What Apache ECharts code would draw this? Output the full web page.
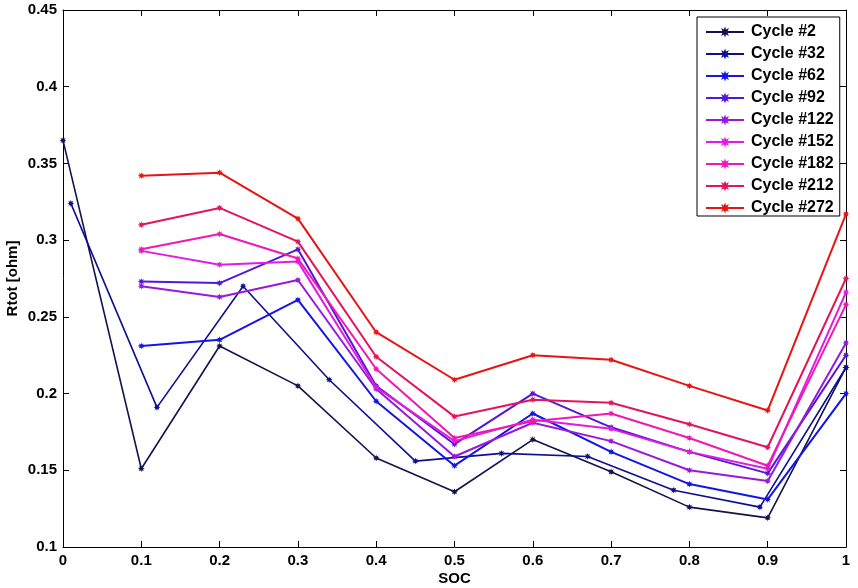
<!DOCTYPE html>
<html>
<head>
<meta charset="utf-8">
<script src="https://cdn.jsdelivr.net/npm/echarts@6/dist/echarts.min.js"></script>
<style>
html,body{margin:0;padding:0;background:#fff;}
#chart{width:858px;height:588px;}
</style>
</head>
<body>
<div id="chart"></div>
<script>
// ---- data ----
var soc = [0, 0.1, 0.2, 0.3, 0.4, 0.5, 0.6, 0.7, 0.8, 0.9, 1.0];
var soc32 = [0.01, 0.12, 0.23, 0.34, 0.45, 0.56, 0.67, 0.78, 0.89, 1.0];
var names = ['Cycle #2', 'Cycle #32', 'Cycle #62', 'Cycle #92', 'Cycle #122', 'Cycle #152', 'Cycle #182', 'Cycle #212', 'Cycle #272'];
var cycle2   = [0.365, 0.151, 0.231, 0.205, 0.158, 0.136, 0.170, 0.149, 0.126, 0.119, 0.217];
var cycle32  = [0.324, 0.191, 0.270, 0.209, 0.156, 0.161, 0.159, 0.137, 0.126, 0.217];
var cycle62  = [null, 0.231, 0.235, 0.261, 0.195, 0.153, 0.187, 0.162, 0.141, 0.131, 0.200];
var cycle92  = [null, 0.273, 0.272, 0.294, 0.205, 0.167, 0.200, 0.178, 0.162, 0.148, 0.225];
var cycle122 = [null, 0.270, 0.263, 0.274, 0.203, 0.159, 0.181, 0.169, 0.150, 0.143, 0.233];
var cycle152 = [null, 0.293, 0.284, 0.286, 0.204, 0.169, 0.183, 0.177, 0.162, 0.151, 0.266];
var cycle182 = [null, 0.294, 0.304, 0.288, 0.216, 0.171, 0.182, 0.187, 0.171, 0.153, 0.258];
var cycle212 = [null, 0.310, 0.321, 0.299, 0.224, 0.185, 0.196, 0.194, 0.180, 0.165, 0.275];
var cycle272 = [null, 0.342, 0.344, 0.314, 0.240, 0.209, 0.225, 0.222, 0.205, 0.189, 0.317];

var colors = ['#12124e', '#0e0e90', '#1414e6', '#5416dc', '#9818dc', '#e01ce4', '#f018b4', '#e4145c', '#e81414'];
var widths = [1.6, 1.6, 2, 2, 2, 2, 2, 2, 2];

function pairs(xs, ys) {
  var out = [];
  for (var i = 0; i < ys.length; i++) {
    if (ys[i] !== null) out.push([xs[i], ys[i]]);
  }
  return out;
}

var allData = [
  pairs(soc, cycle2), pairs(soc32, cycle32), pairs(soc, cycle62), pairs(soc, cycle92),
  pairs(soc, cycle122), pairs(soc, cycle152), pairs(soc, cycle182), pairs(soc, cycle212), pairs(soc, cycle272)
];

var star = 'path://M5,0 L2.3,0.95 L3.54,3.54 L0.95,2.3 L0,5 L-0.95,2.3 L-3.54,3.54 L-2.3,0.95 L-5,0 L-2.3,-0.95 L-3.54,-3.54 L-0.95,-2.3 L0,-5 L0.95,-2.3 L3.54,-3.54 L2.3,-0.95 Z';

var series = names.map(function (n, i) {
  return {
    name: n,
    type: 'line',
    xAxisIndex: 0,
    yAxisIndex: 0,
    data: allData[i],
    symbol: star,
    symbolSize: 7,
    showAllSymbol: true,
    animation: false,
    lineStyle: { color: colors[i], width: widths[i] },
    itemStyle: { color: colors[i] },
    z: 2 + i
  };
});

var font = 'Liberation Sans, Arial, sans-serif';
var chart = echarts.init(document.getElementById('chart'), null, { renderer: 'canvas' });
chart.setOption({
  backgroundColor: '#fff',
  animation: false,
  color: colors,
  grid: { left: 63, right: 12, top: 10, bottom: 41, containLabel: false, outerBoundsMode: 'none' },
  legend: {
    orient: 'vertical',
    left: 697,
    top: 17,
    padding: [7, 6, 0, 8],
    itemWidth: 38,
    itemHeight: 14,
    itemGap: 6,
    backgroundColor: '#fff',
    borderColor: '#000',
    borderWidth: 1,
    borderRadius: 0,
    textStyle: { fontFamily: font, fontWeight: 'bold', fontSize: 16, color: '#000', padding: [0, 0, 0, 2] },
    data: names
  },
  xAxis: [{
    type: 'value', min: 0, max: 1, interval: 0.1, position: 'bottom',
    name: 'SOC', nameLocation: 'middle', nameGap: 24, nameMoveOverlap: false,
    nameTextStyle: { fontFamily: font, fontWeight: 'bold', fontSize: 15, color: '#000' },
    axisLine: { show: true, onZero: false, lineStyle: { color: '#000', width: 1 } },
    axisTick: { show: true, inside: true, length: 6, lineStyle: { color: '#000' } },
    axisLabel: { fontFamily: font, fontWeight: 'bold', fontSize: 15, color: '#000', margin: 6 },
    splitLine: { show: false }
  }, {
    type: 'value', min: 0, max: 1, interval: 0.1, position: 'top',
    axisLine: { show: true, onZero: false, lineStyle: { color: '#000', width: 1 } },
    axisTick: { show: true, inside: true, length: 6, lineStyle: { color: '#000' } },
    axisLabel: { show: false },
    splitLine: { show: false }
  }],
  yAxis: [{
    type: 'value', min: 0.1, max: 0.45, interval: 0.05, position: 'left',
    name: 'Rtot [ohm]', nameLocation: 'middle', nameGap: 43, nameRotate: 90, nameMoveOverlap: false,
    nameTextStyle: { fontFamily: font, fontWeight: 'bold', fontSize: 15, color: '#000' },
    axisLine: { show: true, onZero: false, lineStyle: { color: '#000', width: 1 } },
    axisTick: { show: true, inside: true, length: 6, lineStyle: { color: '#000' } },
    axisLabel: { fontFamily: font, fontWeight: 'bold', fontSize: 15, color: '#000', margin: 6 },
    splitLine: { show: false }
  }, {
    type: 'value', min: 0.1, max: 0.45, interval: 0.05, position: 'right',
    axisLine: { show: true, onZero: false, lineStyle: { color: '#000', width: 1 } },
    axisTick: { show: true, inside: true, length: 6, lineStyle: { color: '#000' } },
    axisLabel: { show: false },
    splitLine: { show: false }
  }],
  series: series
});
</script>
</body>
</html>
